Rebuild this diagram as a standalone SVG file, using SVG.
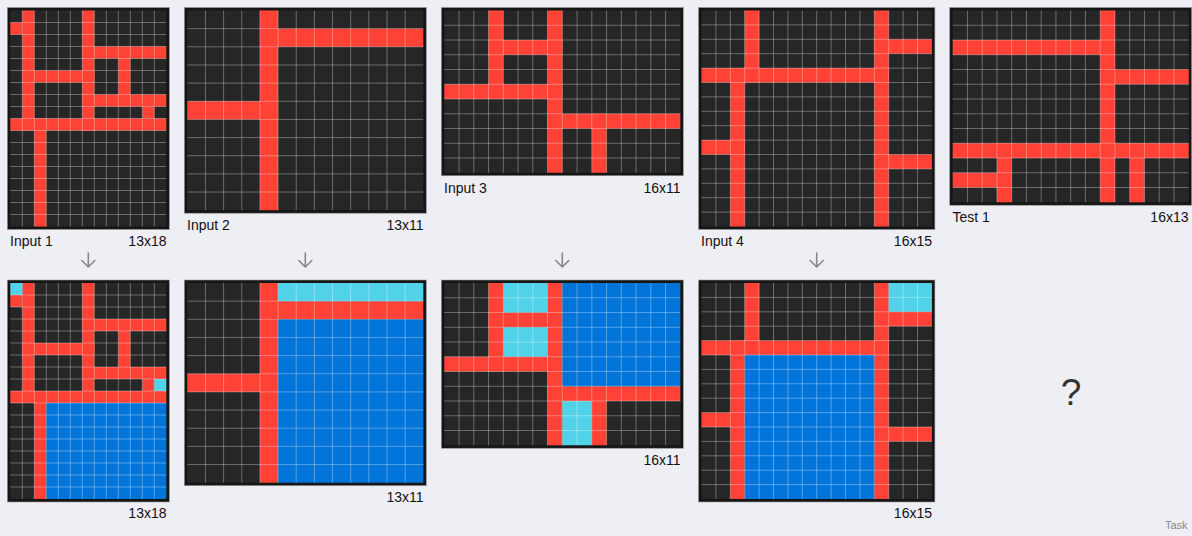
<svg xmlns="http://www.w3.org/2000/svg" xmlns:xlink="http://www.w3.org/1999/xlink" width="1192" height="536" viewBox="0 0 1192 536">
<style>
.bg{fill:#eeeef5}
.frame{fill:#161616;stroke:#9a9a9a;stroke-width:0.6}
.k{fill:#262626}
.r{fill:#ff4136}
.b{fill:#0074d9}
.c{fill:#52d2e8}
.gl{fill:none;stroke:#ffffff;stroke-opacity:0.32;stroke-width:1;vector-effect:non-scaling-stroke}
.lbl{font-family:"Liberation Sans",Arial,sans-serif;font-size:14px;fill:#111}
.end{text-anchor:end}
.arr{fill:none;stroke:#888;stroke-width:1.6;stroke-linecap:round;stroke-linejoin:round}
.q{font-family:"Liberation Sans",Arial,sans-serif;font-size:37px;fill:#333;text-anchor:middle}
.task{font-family:"Liberation Sans",Arial,sans-serif;font-size:11px;fill:#888;text-anchor:end}
</style>
<defs>
<path id="g13x18" class="gl" d="M1 0V18M2 0V18M3 0V18M4 0V18M5 0V18M6 0V18M7 0V18M8 0V18M9 0V18M10 0V18M11 0V18M12 0V18M0 1H13M0 2H13M0 3H13M0 4H13M0 5H13M0 6H13M0 7H13M0 8H13M0 9H13M0 10H13M0 11H13M0 12H13M0 13H13M0 14H13M0 15H13M0 16H13M0 17H13"/>
<path id="g13x11" class="gl" d="M1 0V11M2 0V11M3 0V11M4 0V11M5 0V11M6 0V11M7 0V11M8 0V11M9 0V11M10 0V11M11 0V11M12 0V11M0 1H13M0 2H13M0 3H13M0 4H13M0 5H13M0 6H13M0 7H13M0 8H13M0 9H13M0 10H13"/>
<path id="g16x11" class="gl" d="M1 0V11M2 0V11M3 0V11M4 0V11M5 0V11M6 0V11M7 0V11M8 0V11M9 0V11M10 0V11M11 0V11M12 0V11M13 0V11M14 0V11M15 0V11M0 1H16M0 2H16M0 3H16M0 4H16M0 5H16M0 6H16M0 7H16M0 8H16M0 9H16M0 10H16"/>
<path id="g16x15" class="gl" d="M1 0V15M2 0V15M3 0V15M4 0V15M5 0V15M6 0V15M7 0V15M8 0V15M9 0V15M10 0V15M11 0V15M12 0V15M13 0V15M14 0V15M15 0V15M0 1H16M0 2H16M0 3H16M0 4H16M0 5H16M0 6H16M0 7H16M0 8H16M0 9H16M0 10H16M0 11H16M0 12H16M0 13H16M0 14H16"/>
<path id="g16x13" class="gl" d="M1 0V13M2 0V13M3 0V13M4 0V13M5 0V13M6 0V13M7 0V13M8 0V13M9 0V13M10 0V13M11 0V13M12 0V13M13 0V13M14 0V13M15 0V13M0 1H16M0 2H16M0 3H16M0 4H16M0 5H16M0 6H16M0 7H16M0 8H16M0 9H16M0 10H16M0 11H16M0 12H16"/>
</defs>
<rect class="bg" x="0" y="0" width="1192" height="536"/>

<!-- Input 1 -->
<g id="input1">
<rect class="frame" x="7.3" y="7.5" width="162" height="222"/>
<g transform="translate(10.3,10.5) scale(12)">
<rect class="k" width="13" height="18"/>
<rect class="r" x="1" y="0" width="1" height="10"/>
<rect class="r" x="0" y="1" width="1" height="1"/>
<rect class="r" x="6" y="0" width="1" height="10"/>
<rect class="r" x="6" y="3" width="7" height="1"/>
<rect class="r" x="9" y="3" width="1" height="5"/>
<rect class="r" x="1" y="5" width="6" height="1"/>
<rect class="r" x="6" y="7" width="7" height="1"/>
<rect class="r" x="11" y="8" width="1" height="1"/>
<rect class="r" x="0" y="9" width="13" height="1"/>
<rect class="r" x="2" y="9" width="1" height="9"/>
<use xlink:href="#g13x18"/>
</g>
<text class="lbl" x="10" y="245.5">Input 1</text>
<text class="lbl end" x="166.5" y="245.5">13x18</text>
</g>

<!-- Output 1 -->
<g id="output1">
<rect class="frame" x="7.3" y="280" width="162" height="222"/>
<g transform="translate(10.3,283) scale(12)">
<rect class="k" width="13" height="18"/>
<rect class="r" x="1" y="0" width="1" height="10"/>
<rect class="r" x="0" y="1" width="1" height="1"/>
<rect class="r" x="6" y="0" width="1" height="10"/>
<rect class="r" x="6" y="3" width="7" height="1"/>
<rect class="r" x="9" y="3" width="1" height="5"/>
<rect class="r" x="1" y="5" width="6" height="1"/>
<rect class="r" x="6" y="7" width="7" height="1"/>
<rect class="r" x="11" y="8" width="1" height="1"/>
<rect class="r" x="0" y="9" width="13" height="1"/>
<rect class="r" x="2" y="9" width="1" height="9"/>
<rect class="c" x="0" y="0" width="1" height="1"/>
<rect class="c" x="12" y="8" width="1" height="1"/>
<rect class="b" x="3" y="10" width="10" height="8"/>
<use xlink:href="#g13x18"/>
</g>
<text class="lbl end" x="166.5" y="518">13x18</text>
</g>

<!-- Input 2 -->
<g id="input2">
<rect class="frame" x="184.3" y="7.5" width="242" height="205.7"/>
<g transform="translate(187.3,10.5) scale(18.154)">
<rect class="k" width="13" height="11"/>
<rect class="r" x="4" y="0" width="1" height="11"/>
<rect class="r" x="4" y="1" width="9" height="1"/>
<rect class="r" x="0" y="5" width="5" height="1"/>
<use xlink:href="#g13x11"/>
</g>
<text class="lbl" x="187" y="229.5">Input 2</text>
<text class="lbl end" x="423.5" y="229.5">13x11</text>
</g>

<!-- Output 2 -->
<g id="output2">
<rect class="frame" x="184.3" y="280" width="242" height="205.7"/>
<g transform="translate(187.3,283) scale(18.154)">
<rect class="k" width="13" height="11"/>
<rect class="r" x="4" y="0" width="1" height="11"/>
<rect class="r" x="4" y="1" width="9" height="1"/>
<rect class="r" x="0" y="5" width="5" height="1"/>
<rect class="c" x="5" y="0" width="8" height="1"/>
<rect class="b" x="5" y="2" width="8" height="9"/>
<use xlink:href="#g13x11"/>
</g>
<text class="lbl end" x="423.5" y="502">13x11</text>
</g>

<!-- Input 3 -->
<g id="input3">
<rect class="frame" x="441.3" y="7.5" width="242" height="168.25"/>
<g transform="translate(444.3,10.5) scale(14.75)">
<rect class="k" width="16" height="11"/>
<rect class="r" x="3" y="0" width="1" height="6"/>
<rect class="r" x="3" y="2" width="5" height="1"/>
<rect class="r" x="7" y="0" width="1" height="11"/>
<rect class="r" x="0" y="5" width="8" height="1"/>
<rect class="r" x="7" y="7" width="9" height="1"/>
<rect class="r" x="10" y="7" width="1" height="4"/>
<use xlink:href="#g16x11"/>
</g>
<text class="lbl" x="444" y="192.5">Input 3</text>
<text class="lbl end" x="680.5" y="192.5">16x11</text>
</g>

<!-- Output 3 -->
<g id="output3">
<rect class="frame" x="441.3" y="280" width="242" height="168.25"/>
<g transform="translate(444.3,283) scale(14.75)">
<rect class="k" width="16" height="11"/>
<rect class="r" x="3" y="0" width="1" height="6"/>
<rect class="r" x="3" y="2" width="5" height="1"/>
<rect class="r" x="7" y="0" width="1" height="11"/>
<rect class="r" x="0" y="5" width="8" height="1"/>
<rect class="r" x="7" y="7" width="9" height="1"/>
<rect class="r" x="10" y="7" width="1" height="4"/>
<rect class="c" x="4" y="0" width="3" height="2"/>
<rect class="c" x="4" y="3" width="3" height="2"/>
<rect class="b" x="8" y="0" width="8" height="7"/>
<rect class="c" x="8" y="8" width="2" height="3"/>
<use xlink:href="#g16x11"/>
</g>
<text class="lbl end" x="680.5" y="465">16x11</text>
</g>

<!-- Input 4 -->
<g id="input4">
<rect class="frame" x="698.5" y="7.5" width="236.4" height="222"/>
<g transform="translate(701.5,10.5) scale(14.4)">
<rect class="k" width="16" height="15"/>
<rect class="r" x="3" y="0" width="1" height="5"/>
<rect class="r" x="0" y="4" width="13" height="1"/>
<rect class="r" x="12" y="0" width="1" height="15"/>
<rect class="r" x="12" y="2" width="4" height="1"/>
<rect class="r" x="2" y="4" width="1" height="11"/>
<rect class="r" x="0" y="9" width="3" height="1"/>
<rect class="r" x="12" y="10" width="4" height="1"/>
<use xlink:href="#g16x15"/>
</g>
<text class="lbl" x="701" y="245.5">Input 4</text>
<text class="lbl end" x="932" y="245.5">16x15</text>
</g>

<!-- Output 4 -->
<g id="output4">
<rect class="frame" x="698.5" y="280" width="236.4" height="222"/>
<g transform="translate(701.5,283) scale(14.4)">
<rect class="k" width="16" height="15"/>
<rect class="r" x="3" y="0" width="1" height="5"/>
<rect class="r" x="0" y="4" width="13" height="1"/>
<rect class="r" x="12" y="0" width="1" height="15"/>
<rect class="r" x="12" y="2" width="4" height="1"/>
<rect class="r" x="2" y="4" width="1" height="11"/>
<rect class="r" x="0" y="9" width="3" height="1"/>
<rect class="r" x="12" y="10" width="4" height="1"/>
<rect class="c" x="13" y="0" width="3" height="2"/>
<rect class="b" x="3" y="5" width="9" height="10"/>
<use xlink:href="#g16x15"/>
</g>
<text class="lbl end" x="932" y="518">16x15</text>
</g>

<!-- Test 1 -->
<g id="test1">
<rect class="frame" x="949.7" y="7.5" width="242" height="197.75"/>
<g transform="translate(952.7,10.5) scale(14.75)">
<rect class="k" width="16" height="13"/>
<rect class="r" x="10" y="0" width="1" height="13"/>
<rect class="r" x="0" y="2" width="11" height="1"/>
<rect class="r" x="10" y="4" width="6" height="1"/>
<rect class="r" x="0" y="9" width="16" height="1"/>
<rect class="r" x="3" y="9" width="1" height="4"/>
<rect class="r" x="0" y="11" width="4" height="1"/>
<rect class="r" x="12" y="9" width="1" height="4"/>
<use xlink:href="#g16x13"/>
</g>
<text class="lbl" x="952.5" y="221.5">Test 1</text>
<text class="lbl end" x="1188.5" y="221.5">16x13</text>
</g>

<g id="test1-output">
<text class="q" x="1071" y="405">?</text>
</g>

<g id="connectors">
<path class="arr" d="M88.3 253V267M81.8 260.5L88.3 267L94.8 260.5"/>
<path class="arr" d="M305.3 253V267M298.8 260.5L305.3 267L311.8 260.5"/>
<path class="arr" d="M562.3 253V267M555.8 260.5L562.3 267L568.8 260.5"/>
<path class="arr" d="M816.7 253V267M810.2 260.5L816.7 267L823.2 260.5"/>
</g>

<text class="task" x="1187.5" y="528.5">Task</text>
</svg>
